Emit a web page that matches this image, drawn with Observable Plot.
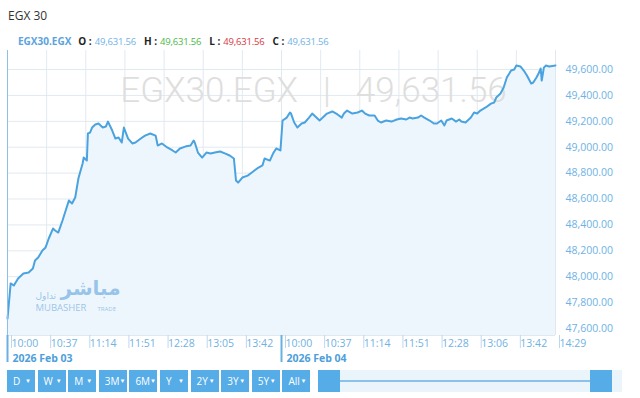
<!DOCTYPE html>
<html><head><meta charset="utf-8">
<script src="https://cdn.jsdelivr.net/npm/d3@7"></script>
<script src="https://cdn.jsdelivr.net/npm/@observablehq/plot@0.6"></script>
<style>
body{margin:0;background:#fff;font-family:"Open Sans",sans-serif;}
#wrap{position:relative;width:640px;height:398px;overflow:hidden;background:#fff}
#title{position:absolute;left:8px;top:10px;font-size:12px;line-height:12px;color:#333}
#info{position:absolute;left:18px;top:36px;font-size:10px;line-height:10px;white-space:nowrap}
#info .sym{color:#5ba3dd;font-weight:bold;margin-right:7px}
#info b{color:#222;margin-right:3px}
#info .v{margin-right:8px;font-size:9.5px;letter-spacing:-0.2px}
#chart{position:absolute;left:0;top:46px}
.btn{position:absolute;top:370px;height:22px;width:28px;background:#55ace6;color:#fff;font-size:10px;line-height:22px;display:flex;justify-content:space-between;padding:0 4px 0 6px;box-sizing:border-box}
.btn span.a{font-size:6px}
#track{position:absolute;left:318px;top:370px;width:304px;height:22px;background:#eaf4fb}
#tline{position:absolute;left:340px;top:380px;width:251px;height:2px;background:#8cc2ea}
.h{position:absolute;top:370px;width:22px;height:22px;background:#55ace6}
</style></head><body><div id="wrap">
<div id="title"></div>
<div id="info"></div>
<div id="chart"></div>
<div id="track"></div><div id="tline"></div>
<div class="h" style="left:318px"></div><div class="h" style="left:590px"></div>
</div>
<script>
const titleText = "EGX 30";
const symbol = "EGX30.EGX";
const ohlcKeys = ["O", "H", "L", "C"];
const ohlcVals = [49631.56, 49631.56, 49631.56, 49631.56];
const ohlcColors = ["#6fb2e6", "#4cb847", "#d9363e", "#6fb2e6"];
const watermark = "EGX30.EGX\u2002\u2009|\u2002\u200949,631.56";

const tickLabels = ["10:00","10:37","11:14","11:51","12:28","13:05","13:42","10:00","10:37","11:14","11:51","12:28","13:06","13:42","14:29"];
const dateLabels = ["2026 Feb 03", "2026 Feb 04"];
const yTicks = [47600,47800,48000,48200,48400,48600,48800,49000,49200,49400,49600];
const buttons = ["D","W","M","3M","6M","Y","2Y","3Y","5Y","All"];

// minutes since 10:00 open, and index values
const day1Min = [0,3,6,10,15,20,24,26,29,33,36,39,43,45,48,52,55,58,61,64,67,71,72,75,76,78,80,83,86,90,93,95,99,102,105,108,110,114,118,121,126,130,135,140,142,146,151,156,159,163,168,173,176,177,180,184,188,192,196,201,206,210,214,216,218,222,227,231,236,241,243,248,251,254,258];
const day1Val = [47677,47948,47932,47986,48025,48032,48063,48125,48148,48202,48226,48295,48372,48357,48341,48434,48511,48588,48565,48612,48758,48874,48920,48897,49106,49113,49152,49175,49183,49152,49160,49198,49129,49067,49075,49036,49152,49067,49029,49036,49067,49090,49106,49090,49013,49029,48998,48975,48959,48990,49005,49013,49052,49036,48959,48920,48959,48951,48959,48967,48951,48936,48913,48743,48727,48766,48781,48805,48836,48859,48913,48897,48951,48990,48975];
const day2Min = [1,5,8,9,12,15,19,22,26,29,33,36,39,43,48,53,57,59,62,67,72,76,79,83,88,91,94,99,104,109,113,118,121,124,129,132,135,140,144,147,151,154,156,161,165,168,170,174,179,182,185,188,193,198,201,203,207,210,213,217,220,222,226,229,232,236,238,241,243,245,246,248,250,253,259];
const day2Val = [49206,49229,49268,49260,49191,49152,49183,49191,49229,49260,49229,49206,49229,49260,49276,49253,49229,49260,49283,49260,49268,49283,49260,49245,49245,49206,49191,49206,49198,49214,49222,49214,49229,49222,49229,49245,49229,49206,49183,49183,49206,49168,49206,49222,49198,49214,49198,49191,49229,49268,49260,49283,49307,49337,49345,49384,49415,49461,49538,49592,49600,49631,49623,49592,49554,49492,49500,49538,49569,49608,49515,49615,49631,49623,49631.56];

const session = 259; // axis length of one session (7 x 37 min)
const series = [
  ...day1Min.map((m, i) => ({m, v: day1Val[i]})),
  ...day2Min.map((m, i) => ({m: m + session, v: day2Val[i]}))
];
const tickPos = tickLabels.map((_, i) => i * 37);
const labelAt = new Map(tickPos.map((p, i) => [p, tickLabels[i]]));
const dayStarts = dateLabels.map((_, i) => i * session);
const yMin = 47546, yMax = 49747;

document.getElementById("title").textContent = titleText;
const info = document.getElementById("info");
info.innerHTML = `<span class="sym">${symbol}</span>` + ohlcKeys.map((k, i) =>
  `<b>${k} :</b><span class="v" style="color:${ohlcColors[i]}">${d3.format(",.2f")(ohlcVals[i])}</span>`).join("");

const wrap = document.getElementById("wrap");
buttons.forEach((b, i) => {
  const d = document.createElement("div");
  d.className = "btn";
  d.style.left = (7 + i * 30.6) + "px";
  d.innerHTML = `<span>${b}</span><span class="a">\u25BC</span>`;
  wrap.appendChild(d);
});

const chart = Plot.plot({
  width: 640, height: 320,
  marginTop: 4, marginBottom: 31, marginLeft: 7, marginRight: 85,
  x: {domain: [0, 2 * session], label: null},
  y: {domain: [yMin, yMax], label: null},
  style: {fontFamily: "Open Sans", background: "transparent"},
  marks: [
    Plot.gridY(yTicks, {stroke: "#e1e9f0", strokeOpacity: 1}),
    Plot.gridX(tickPos, {stroke: "#e1e9f0", strokeOpacity: 1}),
    Plot.ruleY([yMin], {stroke: "#e1e9f0"}),
    Plot.areaY(series, {x: "m", y1: yMin, y2: "v", fill: "#edf6fd"}),
    Plot.text([watermark], {frameAnchor: "top", lineAnchor: "middle", dx: 32, dy: 40, fontSize: 35, fill: "#dedede", fontFamily: "Roboto", fontWeight: 300}),
    Plot.text(["مباشر"], {frameAnchor: "bottom-left", textAnchor: "start", dx: 53, dy: -41, fontSize: 20, fontWeight: "bold", fill: "#5ea3dc", fillOpacity: 0.6, fontFamily: "DejaVu Sans"}),
    Plot.text(["تداول"], {frameAnchor: "bottom-left", textAnchor: "start", dx: 28, dy: -37, fontSize: 9, fill: "#5ea3dc", fillOpacity: 0.6, fontFamily: "DejaVu Sans"}),
    Plot.text(["MUBASHER"], {frameAnchor: "bottom-left", textAnchor: "start", dx: 28, dy: -25, fontSize: 9.5, fill: "#7fb3df", fillOpacity: 0.75}),
    Plot.text(["TRADE"], {frameAnchor: "bottom-left", textAnchor: "start", dx: 90, dy: -25, fontSize: 6, fill: "#7fb3df", fillOpacity: 0.75}),
    Plot.lineY(series, {x: "m", y: "v", stroke: "#4aa3df", strokeWidth: 2}),
    Plot.ruleX([0], {stroke: "#8cc2ea"}),
    Plot.axisY({anchor: "right", ticks: yTicks, tickFormat: d3.format(",.2f"), tickSize: 0, tickPadding: 10, fontSize: 10.5, fill: "#6fb2e4", label: null}),
    Plot.axisX({ticks: tickPos, tickFormat: d => labelAt.get(d), tickSize: 13, tickPadding: -9, textAnchor: "start", dx: 4, stroke: "#bcd8ee", fill: "#6fb2e4", fontSize: 10.5, label: null}),
    Plot.ruleX(dayStarts, {y1: yMin, y2: yMin, insetBottom: -27, stroke: "#6ab0e3", strokeWidth: 2}),
    Plot.text(dateLabels, {x: dayStarts, frameAnchor: "bottom", lineAnchor: "middle", dy: 23, dx: 5, textAnchor: "start", fontWeight: "bold", fill: "#4e9fdb", fontSize: 10.5})
  ]
});
document.getElementById("chart").appendChild(chart);
</script></body></html>
